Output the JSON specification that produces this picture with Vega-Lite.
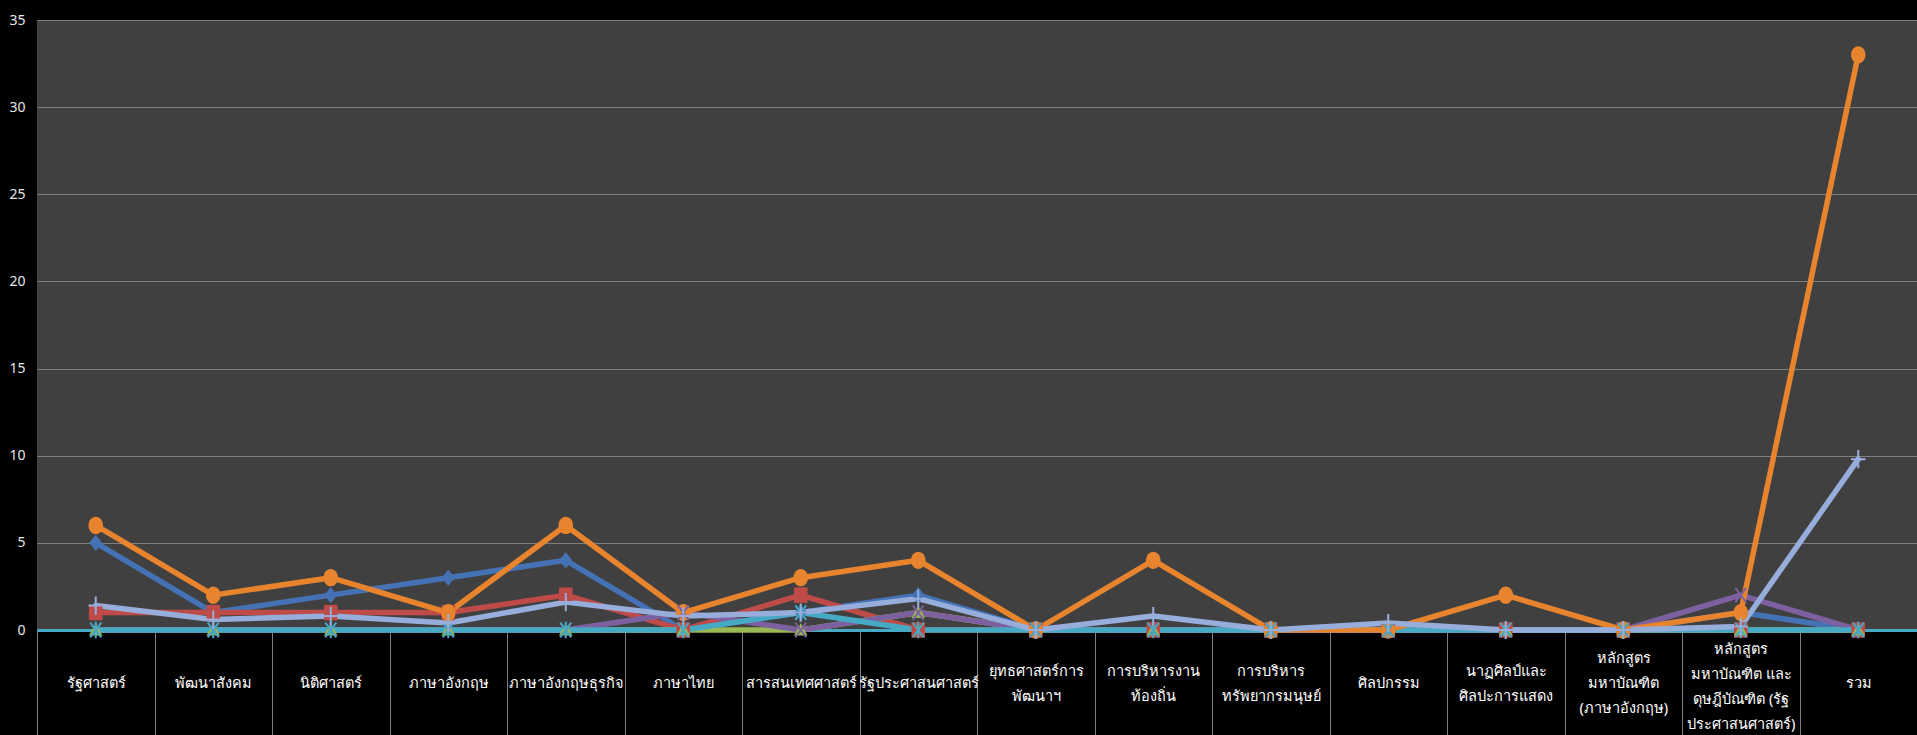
{
  "$schema": "https://vega.github.io/schema/vega-lite/v6.json",
  "autosize": {"type": "none"},
  "padding": {"left": 37, "top": 20, "right": 0, "bottom": 105},
  "width": 1880,
  "height": 610,
  "background": "#000000",
  "config": {
    "view": {"stroke": null, "fill": "#404040"},
    "font": "Noto Sans"
  },
  "data": {
    "values": [
      {"category": "รัฐศาสตร์", "s1": 5, "s2": 1, "s3": 0, "s4": 0, "s5": 0, "s6": 6, "s7": 1.4},
      {"category": "พัฒนาสังคม", "s1": 1, "s2": 1, "s3": 0, "s4": 0, "s5": 0, "s6": 2, "s7": 0.6},
      {"category": "นิติศาสตร์", "s1": 2, "s2": 1, "s3": 0, "s4": 0, "s5": 0, "s6": 3, "s7": 0.8},
      {"category": "ภาษาอังกฤษ", "s1": 3, "s2": 1, "s3": 0, "s4": 0, "s5": 0, "s6": 1, "s7": 0.4},
      {"category": "ภาษาอังกฤษธุรกิจ", "s1": 4, "s2": 2, "s3": 0, "s4": 0, "s5": 0, "s6": 6, "s7": 1.6},
      {"category": "ภาษาไทย", "s1": 0, "s2": 0, "s3": 0, "s4": 1, "s5": 0, "s6": 1, "s7": 0.8},
      {"category": "สารสนเทศศาสตร์", "s1": 1, "s2": 2, "s3": 0, "s4": 0, "s5": 1, "s6": 3, "s7": 1},
      {"category": "รัฐประศาสนศาสตร์", "s1": 2, "s2": 0, "s3": 1, "s4": 1, "s5": 0, "s6": 4, "s7": 1.8},
      {"category": "ยุทธศาสตร์การพัฒนาฯ", "s1": 0, "s2": 0, "s3": 0, "s4": 0, "s5": 0, "s6": 0, "s7": 0},
      {"category": "การบริหารงานท้องถิ่น", "s1": 0, "s2": 0, "s3": 0, "s4": 0, "s5": 0, "s6": 4, "s7": 0.8},
      {"category": "การบริหารทรัพยากรมนุษย์", "s1": 0, "s2": 0, "s3": 0, "s4": 0, "s5": 0, "s6": 0, "s7": 0},
      {"category": "ศิลปกรรม", "s1": 0, "s2": 0, "s3": 0, "s4": 0, "s5": 0, "s6": 0, "s7": 0.4},
      {"category": "นาฏศิลป์และศิลปะการแสดง", "s1": 0, "s2": 0, "s3": 0, "s4": 0, "s5": 0, "s6": 2, "s7": 0},
      {"category": "หลักสูตรมหาบัณฑิต (ภาษาอังกฤษ)", "s1": 0, "s2": 0, "s3": 0, "s4": 0, "s5": 0, "s6": 0, "s7": 0},
      {"category": "หลักสูตรมหาบัณฑิต และดุษฎีบัณฑิต (รัฐประศาสนศาสตร์)", "s1": 1, "s2": 0, "s3": 0, "s4": 2, "s5": 0, "s6": 1, "s7": 0.2},
      {"category": "รวม", "s1": 0, "s2": 0, "s3": 0, "s4": 0, "s5": 0, "s6": 33, "s7": 9.8}
    ]
  },
  "transform": [
    {"fold": ["s1", "s2", "s3", "s4", "s5", "s6", "s7"], "as": ["series", "value"]}
  ],
  "encoding": {
    "x": {
      "field": "category",
      "type": "nominal",
      "sort": null,
      "bandPosition": 0.5,
      "scale": {"type": "band", "paddingInner": 0, "paddingOuter": 0},
      "axis": {
        "title": null,
        "domain": true,
        "domainColor": "#46AAC5",
        "domainWidth": 3,
        "ticks": true,
        "tickBand": "extent",
        "tickSize": 105,
        "tickColor": "#7f7f7f",
        "tickWidth": 1,
        "grid": false,
        "labelAngle": 0,
        "labelColor": "#ffffff",
        "labelFontSize": 14.5,
        "labelBaseline": "middle",
        "labelPadding": {
          "condition": [
            {"test": "indexof(['ยุทธศาสตร์การพัฒนาฯ', 'การบริหารงานท้องถิ่น', 'การบริหารทรัพยากรมนุษย์', 'นาฏศิลป์และศิลปะการแสดง'], datum.value) >= 0", "value": -64},
            {"test": "datum.value == 'หลักสูตรมหาบัณฑิต (ภาษาอังกฤษ)'", "value": -77},
            {"test": "datum.value == 'หลักสูตรมหาบัณฑิต และดุษฎีบัณฑิต (รัฐประศาสนศาสตร์)'", "value": -86}
          ],
          "value": -52
        },
        "labelLineHeight": 25,
        "labelLimit": 200,
        "labelOverlap": false,
        "labelExpr": "datum.value == 'ยุทธศาสตร์การพัฒนาฯ' ? ['ยุทธศาสตร์การ', 'พัฒนาฯ'] : datum.value == 'การบริหารงานท้องถิ่น' ? ['การบริหารงาน', 'ท้องถิ่น'] : datum.value == 'การบริหารทรัพยากรมนุษย์' ? ['การบริหาร', 'ทรัพยากรมนุษย์'] : datum.value == 'นาฏศิลป์และศิลปะการแสดง' ? ['นาฏศิลป์และ', 'ศิลปะการแสดง'] : datum.value == 'หลักสูตรมหาบัณฑิต (ภาษาอังกฤษ)' ? ['หลักสูตร', 'มหาบัณฑิต', '(ภาษาอังกฤษ)'] : datum.value == 'หลักสูตรมหาบัณฑิต และดุษฎีบัณฑิต (รัฐประศาสนศาสตร์)' ? ['หลักสูตร', 'มหาบัณฑิต  และ', 'ดุษฎีบัณฑิต  (รัฐ', 'ประศาสนศาสตร์)'] : datum.value"
      }
    },
    "y": {
      "field": "value",
      "type": "quantitative",
      "scale": {"domain": [0, 35], "nice": false},
      "axis": {
        "title": null,
        "domain": false,
        "ticks": false,
        "values": [0, 5, 10, 15, 20, 25, 30, 35],
        "labelColor": "#e6e6e6",
        "labelFontSize": 14,
        "labelPadding": 12,
        "grid": true,
        "gridColor": "#7f7f7f",
        "gridWidth": 1
      }
    },
    "color": {
      "field": "series",
      "type": "nominal",
      "legend": null,
      "scale": {
        "domain": ["s1", "s2", "s3", "s4", "s5", "s6", "s7"],
        "range": ["#4472B5", "#BE4B48", "#98B954", "#7D60A0", "#46AAC5", "#E8842E", "#97ADDB"]
      }
    },
    "shape": {
      "field": "series",
      "type": "nominal",
      "legend": null,
      "scale": {
        "domain": ["s1", "s2", "s3", "s4", "s5", "s6", "s7"],
        "range": [
          "M0,-0.9L0.7,0L0,0.9L-0.7,0Z",
          "M-0.75,-0.85L0.75,-0.85L0.75,0.85L-0.75,0.85Z",
          "M0,-0.75L0.75,0.6L-0.75,0.6Z",
          "M-0.6,-0.8L0.6,0.8M-0.6,0.8L0.6,-0.8",
          "M-0.6,-0.8L0.6,0.8M-0.6,0.8L0.6,-0.8M0,-0.9L0,0.9",
          "M0,-0.95A0.8,0.95 0 1,1 0,0.95A0.8,0.95 0 1,1 0,-0.95Z",
          "M-0.8,0L0.8,0M0,-1L0,1"
        ]
      }
    }
  },
  "layer": [
    {
      "mark": {"type": "line", "strokeWidth": 5.5, "strokeJoin": "round", "strokeCap": "round"},
      "encoding": {"shape": null}
    },
    {
      "transform": [{"filter": {"field": "series", "oneOf": ["s1", "s2", "s3", "s6"]}}],
      "mark": {"type": "point", "filled": true, "size": 330, "opacity": 1}
    },
    {
      "transform": [{"filter": {"field": "series", "oneOf": ["s4", "s5", "s7"]}}],
      "mark": {"type": "point", "filled": false, "size": 330, "strokeWidth": 2, "opacity": 1}
    }
  ]
}
